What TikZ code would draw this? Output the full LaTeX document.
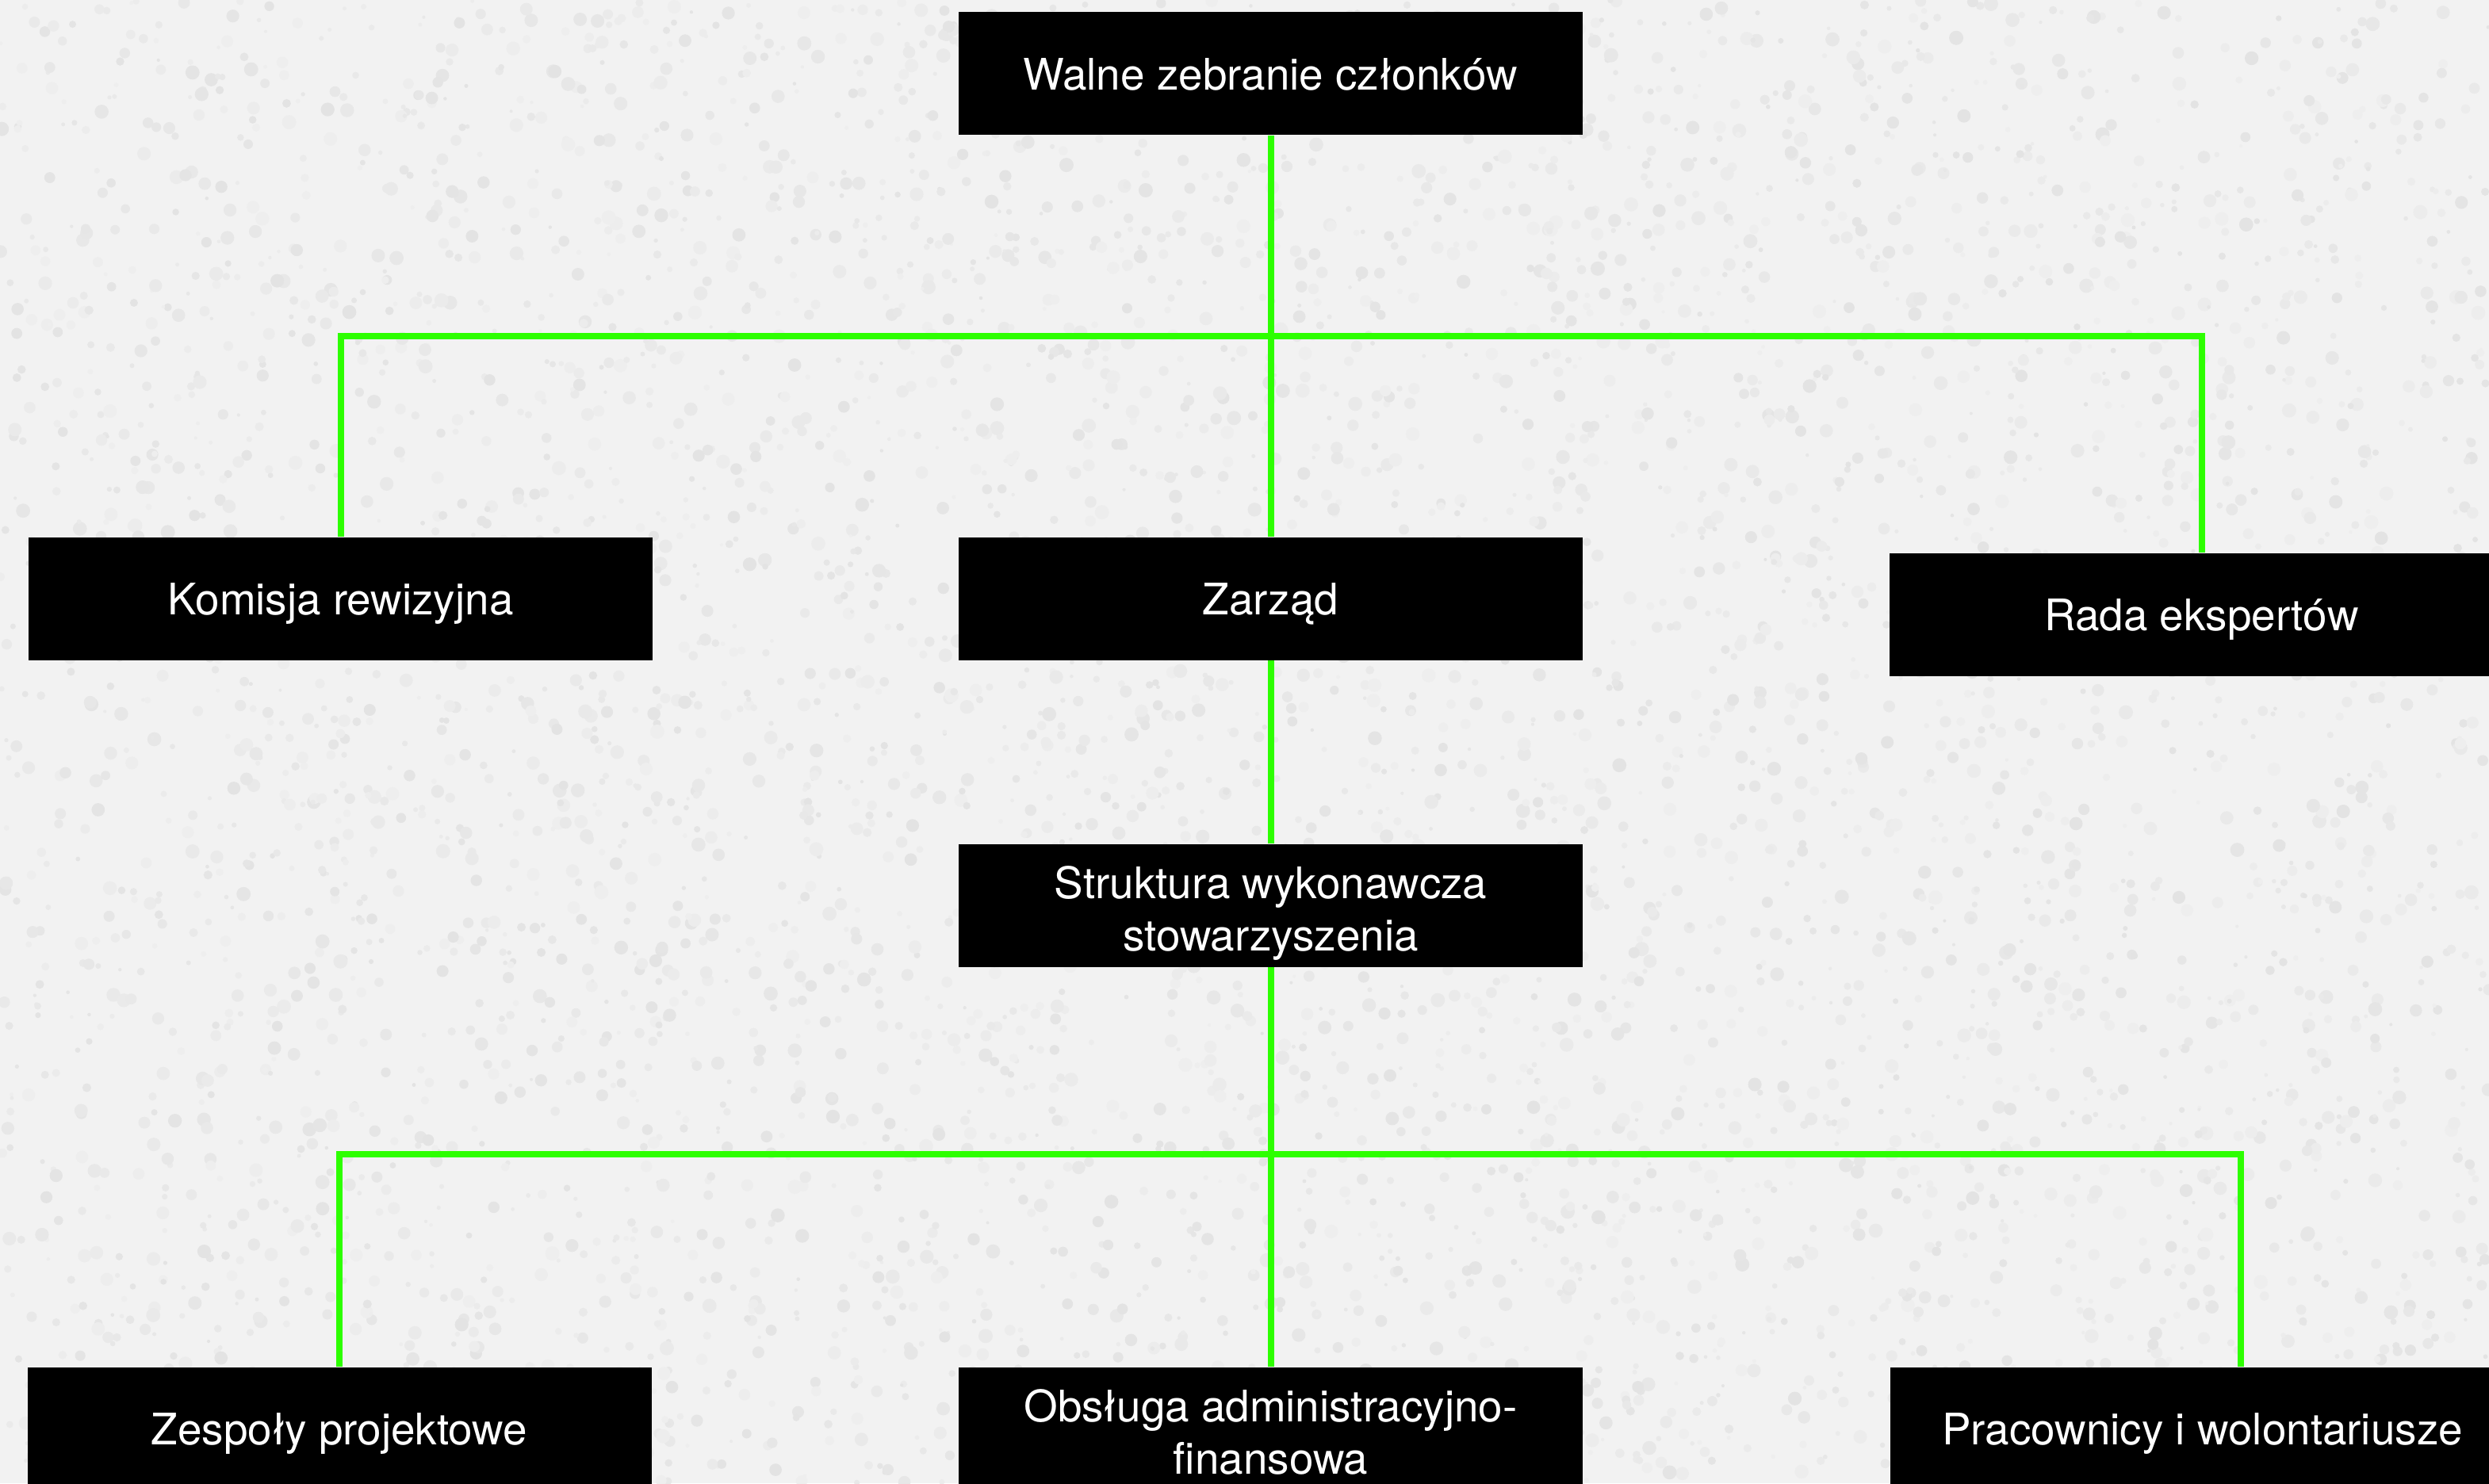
\documentclass[tikz,border=0pt]{standalone}
\usepackage{fontspec}
\setmainfont{TeX Gyre Heros}
\definecolor{bggray}{RGB}{242,242,242}
\definecolor{speck}{RGB}{170,170,170}
\definecolor{linegreen}{RGB}{45,255,0}
\tikzset{
  orgbox/.style={fill=black, text=white, inner sep=0pt, minimum width=7.87cm, minimum height=1.55cm, align=center, font=\fontsize{15.6}{18.8}\selectfont},
  oneline/.style={text height=11.4pt, text depth=0pt},
  twoline/.style={text height=34.4pt, text depth=1.6pt},
  conn/.style={draw=linegreen, line width=0.08cm, line join=miter}
}
\begin{document}
\begin{tikzpicture}
\useasboundingbox (0,0) rectangle (31.39,-18.71);
\fill[bggray] (0,0) rectangle (31.39,-18.71);
\clip (0,0) rectangle (31.39,-18.71);
\pgfmathsetseed{7}
\foreach \i in {1,...,6000}{
  \pgfmathsetmacro{\sx}{rnd*31.39}
  \pgfmathsetmacro{\sy}{-rnd*18.71}
  \pgfmathsetmacro{\sr}{0.02+0.07*rnd}
  \pgfmathtruncatemacro{\so}{5+17*rnd}
  \fill[speck!\so!bggray] (\sx,\sy) circle (\sr);
}

\node[orgbox, oneline] (top)  at (16.025,-0.93)  {Walne zebranie członków};
\node[orgbox, oneline] (kom)  at (4.295,-7.55)   {Komisja rewizyjna};
\node[orgbox, oneline] (zar)  at (16.025,-7.55)  {Zarząd};
\node[orgbox, oneline] (rada) at (27.765,-7.75)  {Rada ekspertów};
\node[orgbox, twoline] (str)  at (16.025,-11.42) {Struktura wykonawcza\\stowarzyszenia};
\node[orgbox, oneline] (zesp) at (4.28,-18.02)   {Zespoły projektowe};
\node[orgbox, twoline] (obs)  at (16.025,-18.02) {Obsługa administracyjno-\\finansowa};
\node[orgbox, oneline] (prac) at (27.775,-18.02) {Pracownicy i wolontariusze};

\coordinate (b1) at (16.025,-4.24);
\coordinate (b2) at (16.025,-14.56);
\coordinate (pracin) at (28.26,-17.24);

\draw[conn] (kom.north) |- (b1) -| (rada.north);
\draw[conn] (top.south) -- (zar.north);
\draw[conn] (zar.south) -- (str.north);
\draw[conn] (zesp.north) |- (b2) -| (pracin);
\draw[conn] (str.south) -- (obs.north);
\end{tikzpicture}
\end{document}
